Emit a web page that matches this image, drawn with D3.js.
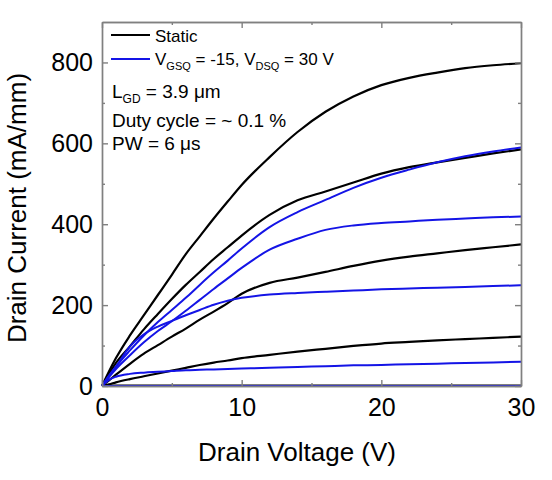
<!DOCTYPE html>
<html>
<head>
<meta charset="utf-8">
<script src="https://cdn.jsdelivr.net/npm/d3@7"></script>
<style>
  body { margin: 0; background: #fff; }
  svg { font-family: "Liberation Sans", Arial, sans-serif; }
</style>
</head>
<body>
<svg id="chart" width="552" height="480"></svg>
<script>
// drain voltage grid (V)
const vds = [0, 0.5, 1, 2, 3, 4, 5, 6, 7, 8, 9, 10, 12, 14, 16, 18, 20, 22, 24, 26, 28, 30];

// static curves (mA/mm), one per gate voltage
const static1 = [0, 36, 69, 125, 175, 225, 275, 326, 370, 414, 456, 497, 566, 628, 678, 716, 744, 762, 775, 786, 793, 798];
const static2 = [0, 30, 57, 98, 140, 178, 215, 250, 282, 314, 343, 372, 423, 459, 481, 503, 525, 541, 553, 564, 575, 585];
const static3 = [0, 14, 28, 55, 80, 101, 122, 142, 164, 184, 205, 228, 255, 268, 282, 297, 310, 320, 328, 336, 343, 350];
const static4 = [0, 4, 9, 17, 24, 31, 38, 45, 52, 58, 63, 69, 77, 85, 92, 99, 105, 109, 113, 116, 119, 122];
const static5 = [0, 1, 1, 1, 1, 1, 1, 1, 1, 1, 1, 1, 1, 1, 1, 1, 1, 1, 1, 1, 1, 1];

// pulsed curves, quiescent point VGSQ = -15 V, VDSQ = 30 V
const pulsed1 = [0, 25, 48, 88, 125, 158, 188, 218, 250, 281, 310, 340, 393, 430, 460, 490, 515, 535, 553, 568, 580, 590];
const pulsed2 = [0, 22, 42, 76, 108, 136, 160, 186, 213, 240, 266, 292, 337, 364, 386, 397, 403, 407, 411, 414, 417, 419];
const pulsed3 = [0, 25, 48, 98, 128, 147, 161, 175, 188, 201, 211, 218, 226, 230, 233, 236, 239, 241, 243, 245, 247, 249];
const pulsed4 = [0, 15, 23, 30, 33, 35, 37, 39, 40, 41, 42, 43, 45, 47, 49, 51, 52, 54, 55, 57, 58, 60];
const pulsed5 = [0, 0, 0, 0, 0, 0, 0, 0, 0, 0, 0, 0, 0, 0, 0, 0, 0, 0, 0, 0, 0, 0];

const staticSeries = [static1, static2, static3, static4, static5];
const pulsedSeries = [pulsed1, pulsed2, pulsed3, pulsed4, pulsed5];

const xMajor = [0, 10, 20, 30];
const xMinor = [5, 15, 25];
const yMajor = [0, 200, 400, 600, 800];
const yMinor = [100, 300, 500, 700];

const BLUE = '#1414e6';
const AXIS = '#808080';

var margin = { top: 22, right: 31, bottom: 94, left: 102 },
  width = 552 - margin.left - margin.right,
  height = 480 - margin.top - margin.bottom;

var x = d3.scaleLinear().domain([0, 30]).range([0, width]),
  y = d3.scaleLinear().domain([0, 900]).range([height, 0]);

var svg = d3.select('#chart')
  .append('g')
  .attr('transform', 'translate(' + margin.left + ',' + margin.top + ')');

//---------------------------- curves ----------------------------//
var line = d3.line()
  .x(function (d, i) { return x(vds[i]); })
  .y(function (d) { return y(d); })
  .curve(d3.curveMonotoneX);

staticSeries.forEach(function (s) {
  svg.append('path').datum(s)
    .attr('fill', 'none').attr('stroke', '#000').attr('stroke-width', 2.2)
    .attr('d', line);
});
pulsedSeries.forEach(function (s) {
  svg.append('path').datum(s)
    .attr('fill', 'none').attr('stroke', BLUE).attr('stroke-width', 2)
    .attr('d', line);
});

//---------------------------- axes ----------------------------//
function styleAxis(g) {
  g.selectAll('path, line').attr('stroke', AXIS).attr('stroke-width', 1.4);
  g.selectAll('text').attr('fill', '#000').style('font-size', '25px');
}

svg.append('g').attr('transform', 'translate(0,' + height + ')')
  .call(d3.axisBottom(x).tickValues(xMajor).tickSizeInner(-6).tickSizeOuter(0).tickPadding(12))
  .call(styleAxis);
svg.append('g').attr('transform', 'translate(0,' + height + ')')
  .call(d3.axisBottom(x).tickValues(xMinor).tickFormat('').tickSizeInner(-3).tickSizeOuter(0))
  .call(styleAxis);

svg.append('g')
  .call(d3.axisTop(x).tickValues(xMajor).tickFormat('').tickSizeInner(-6).tickSizeOuter(0))
  .call(styleAxis);
svg.append('g')
  .call(d3.axisTop(x).tickValues(xMinor).tickFormat('').tickSizeInner(-3).tickSizeOuter(0))
  .call(styleAxis);

svg.append('g')
  .call(d3.axisLeft(y).tickValues(yMajor).tickSizeInner(-6).tickSizeOuter(0).tickPadding(9))
  .call(styleAxis);
svg.append('g')
  .call(d3.axisLeft(y).tickValues(yMinor).tickFormat('').tickSizeInner(-3).tickSizeOuter(0))
  .call(styleAxis);

svg.append('g').attr('transform', 'translate(' + width + ',0)')
  .call(d3.axisRight(y).tickValues(yMajor).tickFormat('').tickSizeInner(-6).tickSizeOuter(0))
  .call(styleAxis);
svg.append('g').attr('transform', 'translate(' + width + ',0)')
  .call(d3.axisRight(y).tickValues(yMinor).tickFormat('').tickSizeInner(-3).tickSizeOuter(0))
  .call(styleAxis);

// axis titles
svg.append('text')
  .attr('x', 195).attr('y', height + 75)
  .attr('text-anchor', 'middle')
  .style('font-size', '26px')
  .text('Drain Voltage (V)');

svg.append('text')
  .attr('transform', 'translate(' + (26 - margin.left) + ',' + (height / 2 + 4) + ') rotate(-90)')
  .attr('text-anchor', 'middle')
  .style('font-size', '26px')
  .text('Drain Current (mA/mm)');

//---------------------------- legend ----------------------------//
var legend = svg.append('g');
legend.append('line')
  .attr('x1', 9).attr('x2', 48).attr('y1', 13).attr('y2', 13)
  .attr('stroke', '#000').attr('stroke-width', 2.2);
legend.append('text')
  .attr('x', 53).attr('y', 20).style('font-size', '17px')
  .text('Static');

legend.append('line')
  .attr('x1', 9).attr('x2', 48).attr('y1', 37).attr('y2', 37)
  .attr('stroke', BLUE).attr('stroke-width', 2);
var t2 = legend.append('text')
  .attr('x', 53).attr('y', 43).style('font-size', '17px');
t2.append('tspan').text('V');
t2.append('tspan').attr('dy', 5).style('font-size', '11px').text('GSQ');
t2.append('tspan').attr('dy', -5).text(' = -15, V');
t2.append('tspan').attr('dy', 5).style('font-size', '11px').text('DSQ');
t2.append('tspan').attr('dy', -5).text(' = 30 V');

// conditions
var t3 = svg.append('text')
  .attr('x', 10).attr('y', 76).style('font-size', '19px');
t3.append('tspan').text('L');
t3.append('tspan').attr('dy', 5).style('font-size', '12px').text('GD');
t3.append('tspan').attr('dy', -5).text(' = 3.9 μm');

svg.append('text')
  .attr('x', 10).attr('y', 105).style('font-size', '19px')
  .text('Duty cycle = ~ 0.1 %');

svg.append('text')
  .attr('x', 10).attr('y', 128).style('font-size', '19px')
  .text('PW = 6 μs');
</script>
</body>
</html>
